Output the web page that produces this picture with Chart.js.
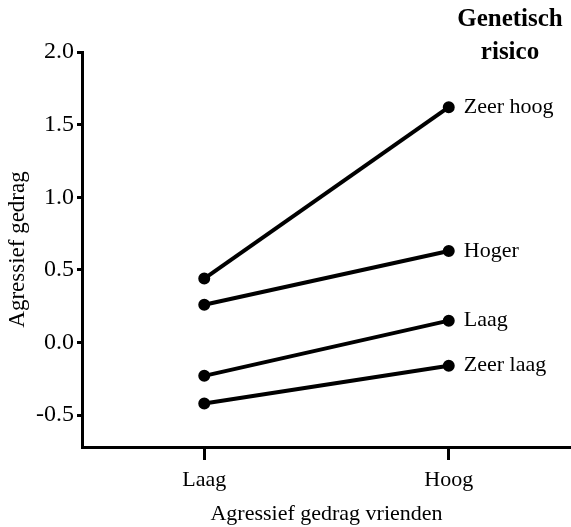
<!DOCTYPE html>
<html>
<head>
<meta charset="utf-8">
<script src="https://cdn.jsdelivr.net/npm/chart.js@4.4.0/dist/chart.umd.min.js"></script>
<style>
  html, body { margin: 0; padding: 0; background: #fff; overflow: hidden; }
  #wrap { width: 571px; height: 527px; position: relative; }
</style>
</head>
<body>
<div id="wrap"><canvas id="riskChart"></canvas></div>
<script>
// categories on the x axis (friends' aggressive behaviour)
const friendLevels = ['Laag', 'Hoog'];
// genetic risk groups, one line each
const riskGroups = ['Zeer hoog', 'Hoger', 'Laag', 'Zeer laag'];
const zeerHoog = [0.44, 1.62];
const hoger = [0.26, 0.63];
const laag = [-0.23, 0.15];
const zeerLaag = [-0.42, -0.16];
const yTicks = [-0.5, 0.0, 0.5, 1.0, 1.5, 2.0];

const serif = '"Liberation Serif", "DejaVu Serif", serif';
const seriesValues = [zeerHoog, hoger, laag, zeerLaag];

// draw group names next to the last point, plus the legend title
const labelPlugin = {
    id: 'groupLabels',
    afterDatasetsDraw(chart) {
        const ctx = chart.ctx;
        ctx.save();
        ctx.fillStyle = '#000';
        ctx.font = '22px ' + serif;
        ctx.textBaseline = 'middle';
        ctx.textAlign = 'left';
        chart.data.datasets.forEach((ds, i) => {
            const meta = chart.getDatasetMeta(i);
            const pt = meta.data[meta.data.length - 1];
            ctx.fillText(ds.label, pt.x + 15, pt.y);
        });
        ctx.font = 'bold 25px ' + serif;
        ctx.textAlign = 'center';
        ctx.fillText('Genetisch', 510, 20);
        ctx.fillText('risico', 510, 53);
        ctx.restore();
    }
};

const ctx = document.getElementById('riskChart').getContext('2d');
new Chart(ctx, {
    type: 'line',
    data: {
        datasets: riskGroups.map((name, i) => ({
            label: name,
            data: seriesValues[i].map((v, j) => ({ x: j, y: v })),
            borderColor: '#000',
            backgroundColor: '#000',
            borderWidth: 4,
            pointRadius: 4,
            pointHoverRadius: 4,
            tension: 0,
            fill: false
        }))
    },
    options: {
        responsive: true,
        maintainAspectRatio: false,
        animation: false,
        layout: { autoPadding: false, padding: { top: 52, right: 0, left: 0, bottom: 0 } },
        plugins: {
            legend: { display: false },
            tooltip: { enabled: false }
        },
        scales: {
            x: {
                type: 'linear',
                min: -0.5,
                max: 1.5,
                afterBuildTicks: (axis) => {
                    axis.ticks = friendLevels.map((_, i) => ({ value: i }));
                },
                afterFit: (axis) => {
                    axis.height = 80;
                    axis.paddingLeft = 0;
                    axis.paddingRight = 0;
                },
                ticks: {
                    color: '#000',
                    font: { family: serif, size: 22 },
                    padding: 7,
                    callback: (v) => friendLevels[v]
                },
                grid: {
                    drawOnChartArea: false,
                    tickLength: 13,
                    tickWidth: 3,
                    tickColor: '#000'
                },
                border: { color: '#000', width: 3 },
                title: {
                    display: true,
                    text: 'Agressief gedrag vrienden',
                    color: '#000',
                    font: { family: serif, size: 22 },
                    padding: { top: 5, bottom: 0 }
                }
            },
            y: {
                min: -0.72,
                max: 2.0,
                afterBuildTicks: (axis) => {
                    axis.ticks = yTicks.map(v => ({ value: v }));
                },
                afterFit: (axis) => { axis.width = 82; },
                ticks: {
                    color: '#000',
                    font: { family: serif, size: 24 },
                    padding: 3,
                    callback: (v) => v.toFixed(1)
                },
                grid: {
                    drawOnChartArea: false,
                    tickLength: 5,
                    tickWidth: 3,
                    tickColor: '#000'
                },
                border: { color: '#000', width: 3 },
                title: {
                    display: true,
                    text: 'Agressief gedrag',
                    color: '#000',
                    font: { family: serif, size: 23 },
                    padding: { bottom: 4 }
                }
            }
        }
    },
    plugins: [labelPlugin]
});
</script>
</body>
</html>
